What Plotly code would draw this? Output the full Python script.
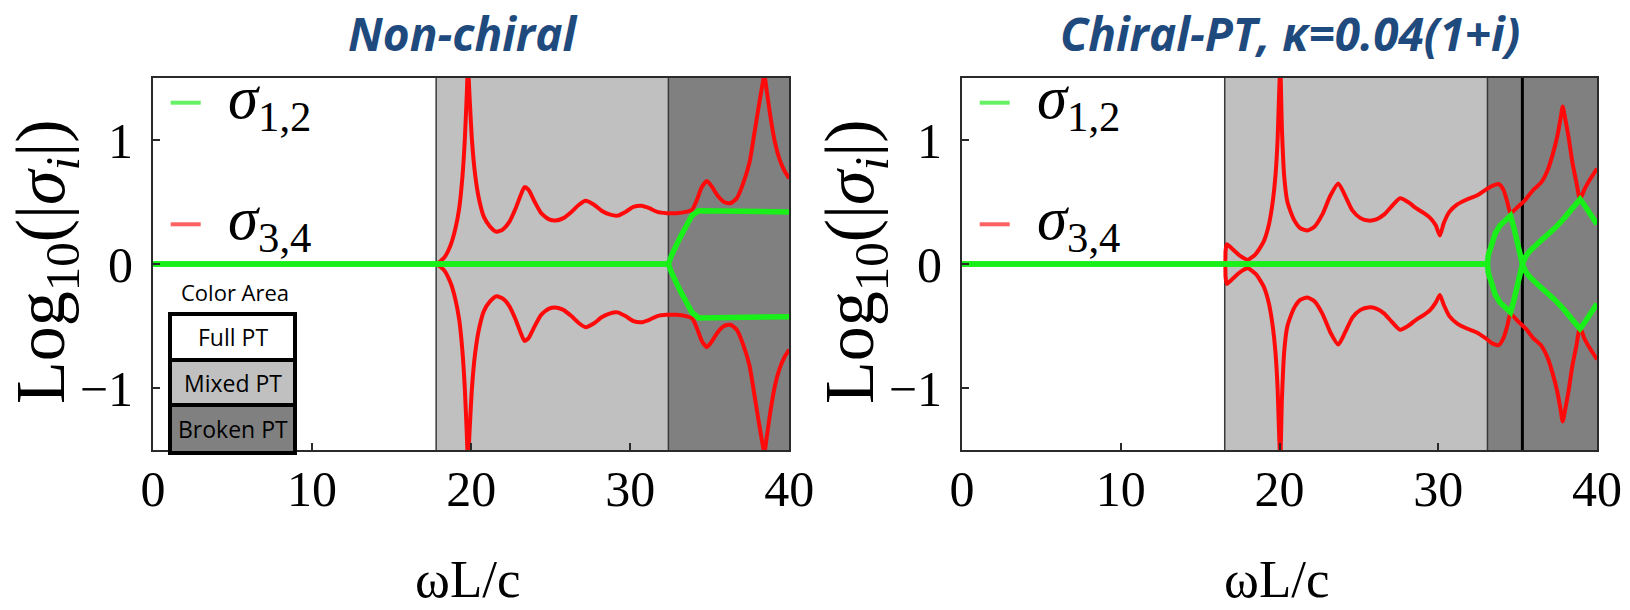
import plotly.graph_objects as go

# ---------------- data ----------------
# Left panel: Non-chiral
L_RED_X = [0, 4, 8, 12, 16, 17.3, 17.8, 18.3, 18.7, 19.0, 19.25, 19.45, 19.6, 19.72, 19.8, 19.9,
           20.05, 20.25, 20.5, 20.8, 21.2, 21.6, 22.0, 22.4, 22.8, 23.1, 23.35, 23.6, 24.0, 24.4,
           24.9, 25.3, 25.8, 26.3, 26.8, 27.2, 27.7, 28.2, 28.7, 29.2, 29.7, 30.2, 30.7, 31.2,
           31.7, 32.3, 32.9, 33.5, 33.9, 34.2, 34.5, 34.82, 35.1, 35.5, 35.9, 36.3, 36.7, 37.1,
           37.5, 37.8, 38.05, 38.25, 38.43, 38.6, 38.8, 39.1, 39.4, 39.7, 40.0]
L_RED_UP = [0, 0, 0, 0, 0, 0, 0, 0.05, 0.15, 0.28, 0.45, 0.7, 1.0, 1.35, 1.6, 1.35,
            1.0, 0.72, 0.52, 0.38, 0.3, 0.26, 0.28, 0.34, 0.45, 0.55, 0.62, 0.6, 0.5, 0.41,
            0.36, 0.35, 0.37, 0.42, 0.48, 0.51, 0.48, 0.43, 0.4, 0.39, 0.42, 0.46, 0.47, 0.45,
            0.42, 0.41, 0.41, 0.42, 0.44, 0.52, 0.62, 0.67, 0.63, 0.55, 0.5, 0.49, 0.53, 0.65,
            0.82, 1.05, 1.25, 1.4, 1.52, 1.38, 1.2, 0.98, 0.84, 0.75, 0.69]
L_RED_DN = [0, 0, 0, 0, 0, 0, 0, -0.05, -0.15, -0.28, -0.45, -0.7, -1.0, -1.35, -1.6, -1.35,
            -1.0, -0.72, -0.52, -0.38, -0.3, -0.26, -0.28, -0.34, -0.45, -0.55, -0.62, -0.6, -0.5, -0.41,
            -0.36, -0.35, -0.37, -0.42, -0.48, -0.51, -0.48, -0.43, -0.4, -0.39, -0.42, -0.46, -0.47, -0.45,
            -0.42, -0.41, -0.41, -0.42, -0.44, -0.52, -0.62, -0.67, -0.63, -0.55, -0.5, -0.49, -0.53, -0.65,
            -0.82, -1.05, -1.25, -1.4, -1.52, -1.38, -1.2, -0.98, -0.84, -0.75, -0.69]
L_GRN_X = [0, 32.4, 32.6, 32.85, 33.14, 33.5, 33.88, 34.3, 35, 36, 37, 38, 39, 40]
L_GRN_UP = [0, 0, 0.07, 0.15, 0.215, 0.3, 0.39, 0.43, 0.43, 0.43, 0.425, 0.425, 0.42, 0.42]
L_GRN_DN = [0, 0, -0.07, -0.15, -0.215, -0.3, -0.39, -0.435, -0.435, -0.435, -0.43, -0.43, -0.425, -0.425]

# Right panel: Chiral-PT, kappa = 0.04(1+i)
R_RED_X = [0, 4, 8, 12, 15, 16.2, 16.55, 16.6, 16.68, 17.0, 17.5, 18.0, 18.5, 19.0, 19.3, 19.55,
           19.75, 19.88, 19.97, 20.05, 20.15, 20.3, 20.5, 20.9, 21.3, 21.75, 22.2, 22.7, 23.2,
           23.7, 24.1, 24.6, 25.1, 25.6, 26.1, 26.6, 27.1, 27.6, 28.1, 28.6, 29.1, 29.5, 29.85,
           30.1, 30.35, 30.7, 31.2, 31.8, 32.4, 33.0, 33.4, 33.8, 34.1, 34.35, 34.55, 35.0, 35.5,
           36.0, 36.5, 36.9, 37.2, 37.5, 37.7, 37.84, 38.0, 38.2, 38.45, 38.7, 38.93, 39.2, 39.5,
           39.75, 40.0]
R_RED_UP = [0, 0, 0, 0, 0, 0, 0, 0.1, 0.16, 0.125, 0.067, 0.035, 0.08, 0.18, 0.3, 0.48,
            0.72, 1.0, 1.35, 1.6, 1.1, 0.7, 0.5, 0.36, 0.29, 0.27, 0.3, 0.4, 0.55,
            0.65, 0.56, 0.43, 0.37, 0.35, 0.36, 0.4, 0.47, 0.53, 0.5, 0.45, 0.41, 0.37, 0.31,
            0.23, 0.33, 0.42, 0.48, 0.52, 0.55, 0.6, 0.63, 0.645, 0.6, 0.5, 0.41, 0.46, 0.52,
            0.6, 0.66, 0.76, 0.88, 1.03, 1.17, 1.27, 1.17, 1.03, 0.82, 0.66, 0.52, 0.6, 0.67,
            0.72, 0.77]
R_RED_DN = [0, 0, 0, 0, 0, 0, 0, -0.1, -0.16, -0.125, -0.067, -0.035, -0.08, -0.18, -0.3, -0.48,
            -0.72, -1.0, -1.35, -1.6, -1.1, -0.7, -0.5, -0.36, -0.29, -0.27, -0.3, -0.4, -0.55,
            -0.65, -0.56, -0.43, -0.37, -0.35, -0.36, -0.4, -0.47, -0.53, -0.5, -0.45, -0.41, -0.37, -0.31,
            -0.25, -0.33, -0.42, -0.48, -0.52, -0.55, -0.6, -0.64, -0.655, -0.6, -0.5, -0.4, -0.46, -0.52,
            -0.6, -0.66, -0.76, -0.88, -1.03, -1.17, -1.27, -1.17, -1.03, -0.82, -0.66, -0.51, -0.6, -0.67,
            -0.72, -0.77]
R_GRN_X = [0, 33.1, 33.15, 33.37, 33.6, 33.89, 34.2, 34.55, 34.75, 34.94, 35.1, 35.3, 35.5, 35.78,
           36.3, 36.83, 37.35, 37.88, 38.4, 38.93, 39.2, 39.46, 39.75, 40.0]
R_GRN_UP = [0, 0, 0.07, 0.175, 0.25, 0.31, 0.355, 0.39, 0.3, 0.2, 0.11, 0.0, 0.06, 0.107,
            0.17, 0.228, 0.29, 0.362, 0.44, 0.523, 0.475, 0.43, 0.375, 0.32]
R_GRN_DN = [0, 0, -0.07, -0.175, -0.25, -0.31, -0.355, -0.39, -0.3, -0.2, -0.11, 0.0, -0.06, -0.107,
            -0.17, -0.228, -0.29, -0.362, -0.44, -0.523, -0.475, -0.43, -0.375, -0.32]

# phase regions: (start, end, kind)
L_REGIONS = [(17.8, 32.4, "mixed"), (32.4, 40.0, "broken")]
R_REGIONS = [(16.55, 33.1, "mixed"), (33.1, 40.0, "broken")]
L_BOUNDS = [17.8, 32.4]
R_BOUNDS = [16.55, 33.1]
R_EP_LINE = [35.3]

X_TICKS = [0, 10, 20, 30, 40]
Y_TICKS = [-1, 0, 1]
TITLES = ["Non-chiral", "Chiral-PT, κ=0.04(1+i)"]
LEGEND_LABELS = ["<i>σ</i><sub>1,2</sub>", "<i>σ</i><sub>3,4</sub>"]
AREA_LABELS = ["Full PT", "Mixed PT", "Broken PT"]

# ---------------- styling ----------------
W, H = 1630, 610
def px(v):
    return v / W
def py(v):
    return 1 - v / H

GREEN = "#19f019"
RED = "#ff0a0a"
LIGHT = "#c0c0c0"
DARK = "#808080"
FILLS = {"full": "white", "mixed": LIGHT, "broken": DARK}
SERIF = "Liberation Serif"
SANS = "Open Sans"
TITLE_BLUE = "#1f4a7e"

fig = go.Figure()

panels = [
    dict(xa="x", ya="y", rx=L_RED_X, ru=L_RED_UP, rd=L_RED_DN,
         gx=L_GRN_X, gu=L_GRN_UP, gd=L_GRN_DN),
    dict(xa="x2", ya="y2", rx=R_RED_X, ru=R_RED_UP, rd=R_RED_DN,
         gx=R_GRN_X, gu=R_GRN_UP, gd=R_GRN_DN),
]
for p in panels:
    for yy in (p["ru"], p["rd"]):
        fig.add_trace(go.Scatter(x=p["rx"], y=yy, mode="lines", xaxis=p["xa"], yaxis=p["ya"],
                                 line=dict(color=RED, width=4, shape="spline", smoothing=0.6),
                                 showlegend=False, hoverinfo="skip"))
    for yy in (p["gu"], p["gd"]):
        fig.add_trace(go.Scatter(x=p["gx"], y=yy, mode="lines", xaxis=p["xa"], yaxis=p["ya"],
                                 line=dict(color=GREEN, width=5.5), showlegend=False,
                                 hoverinfo="skip"))

shapes = []
def add_regions(regions, bounds, xref, yref):
    for (a, b, kind) in regions:
        shapes.append(dict(type="rect", xref=xref, yref=yref + " domain", x0=a, x1=b, y0=0, y1=1,
                           fillcolor=FILLS[kind], line=dict(width=0), layer="below"))
    for bx in bounds:
        shapes.append(dict(type="line", xref=xref, yref=yref + " domain", x0=bx, x1=bx, y0=0, y1=1,
                           line=dict(color="#3a3a3a", width=1.5), layer="below"))

add_regions(L_REGIONS, L_BOUNDS, "x", "y")
add_regions(R_REGIONS, R_BOUNDS, "x2", "y2")
for bx in R_EP_LINE:
    shapes.append(dict(type="line", xref="x2", yref="y2 domain", x0=bx, x1=bx, y0=0, y1=1,
                       line=dict(color="black", width=3), layer="below"))

annotations = []
panel_offsets = [0, 809]
title_cx = [463, 1290]
for i, off in enumerate(panel_offsets):
    # legend samples
    for j, (col, yp) in enumerate([("#66f066", 102.7), ("#ff6262", 224.3)]):
        shapes.append(dict(type="line", xref="paper", yref="paper",
                           x0=px(170.7 + off), x1=px(200.7 + off), y0=py(yp), y1=py(yp),
                           line=dict(color=col, width=4), layer="above"))
        annotations.append(dict(text=LEGEND_LABELS[j], xref="paper", yref="paper",
                                x=px(226 + off), y=py(yp - 1), xanchor="left", yanchor="middle",
                                showarrow=False, font=dict(family=SERIF, size=61, color="black")))
    # titles
    annotations.append(dict(text="<b><i>" + TITLES[i] + "</i></b>", xref="paper", yref="paper",
                            x=px(title_cx[i]), y=py(33), xanchor="center", yanchor="middle",
                            showarrow=False, font=dict(family=SANS, size=46, color=TITLE_BLUE)))
    # axis titles
    annotations.append(dict(text="ωL/c", xref="paper", yref="paper",
                            x=px(468 + off), y=py(579), xanchor="center", yanchor="middle",
                            showarrow=False, font=dict(family=SERIF, size=53, color="black")))
    annotations.append(dict(text="Log<sub>10</sub>(|<i>σ</i><sub><i>i</i></sub>|)", xref="paper",
                            yref="paper", x=px(46 + off), y=py(262), xanchor="center",
                            yanchor="middle", textangle=-90, showarrow=False,
                            font=dict(family=SERIF, size=70, color="black")))

# Color Area key (left panel)
annotations.append(dict(text="Color Area", xref="paper", yref="paper", x=px(235), y=py(292),
                        xanchor="center", yanchor="middle", showarrow=False,
                        font=dict(family=SANS, size=22, color="black")))
cells = [(314, 360, "white"), (360, 405, LIGHT), (405, 453, DARK)]
for k, (t, b, fc) in enumerate(cells):
    shapes.append(dict(type="rect", xref="paper", yref="paper", x0=px(170), x1=px(295),
                       y0=py(b), y1=py(t), fillcolor=fc, line=dict(color="black", width=4),
                       layer="above"))
    annotations.append(dict(text=AREA_LABELS[k], xref="paper", yref="paper", x=px(233),
                            y=py((t + b) / 2), xanchor="center", yanchor="middle", showarrow=False,
                            font=dict(family=SANS, size=23, color="black")))

axis_common = dict(showgrid=False, zeroline=False, showline=True, linecolor="#2a2a2a",
                   linewidth=2, mirror=True, ticks="inside", ticklen=7, tickwidth=1.5,
                   tickcolor="#2a2a2a", automargin=False, ticklabeloverflow="allow")
xdom = [[px(153), px(789.3)], [px(962), px(1597)]]
ydom = [py(450), py(78)]
tickfont = dict(family=SERIF, size=50, color="black")

fig.update_layout(
    width=W, height=H, margin=dict(l=0, r=0, t=0, b=0, autoexpand=False),
    paper_bgcolor="white", plot_bgcolor="white", showlegend=False,
    xaxis=dict(domain=xdom[0], range=[0, 40], tickvals=X_TICKS, anchor="y",
               tickfont=tickfont, ticklabelstandoff=-6, **axis_common),
    yaxis=dict(domain=ydom, range=[-1.5, 1.5], tickvals=Y_TICKS, anchor="x",
               tickfont=tickfont, ticklabelstandoff=8, **axis_common),
    xaxis2=dict(domain=xdom[1], range=[0, 40], tickvals=X_TICKS, anchor="y2",
                tickfont=tickfont, ticklabelstandoff=-6, **axis_common),
    yaxis2=dict(domain=ydom, range=[-1.5, 1.5], tickvals=Y_TICKS, anchor="x2",
                tickfont=tickfont, ticklabelstandoff=8, **axis_common),
    shapes=shapes, annotations=annotations,
)

fig.write_html("out.html", config={"displayModeBar": False},
               post_script="document.body.style.margin='0';document.body.style.overflow='hidden';")
